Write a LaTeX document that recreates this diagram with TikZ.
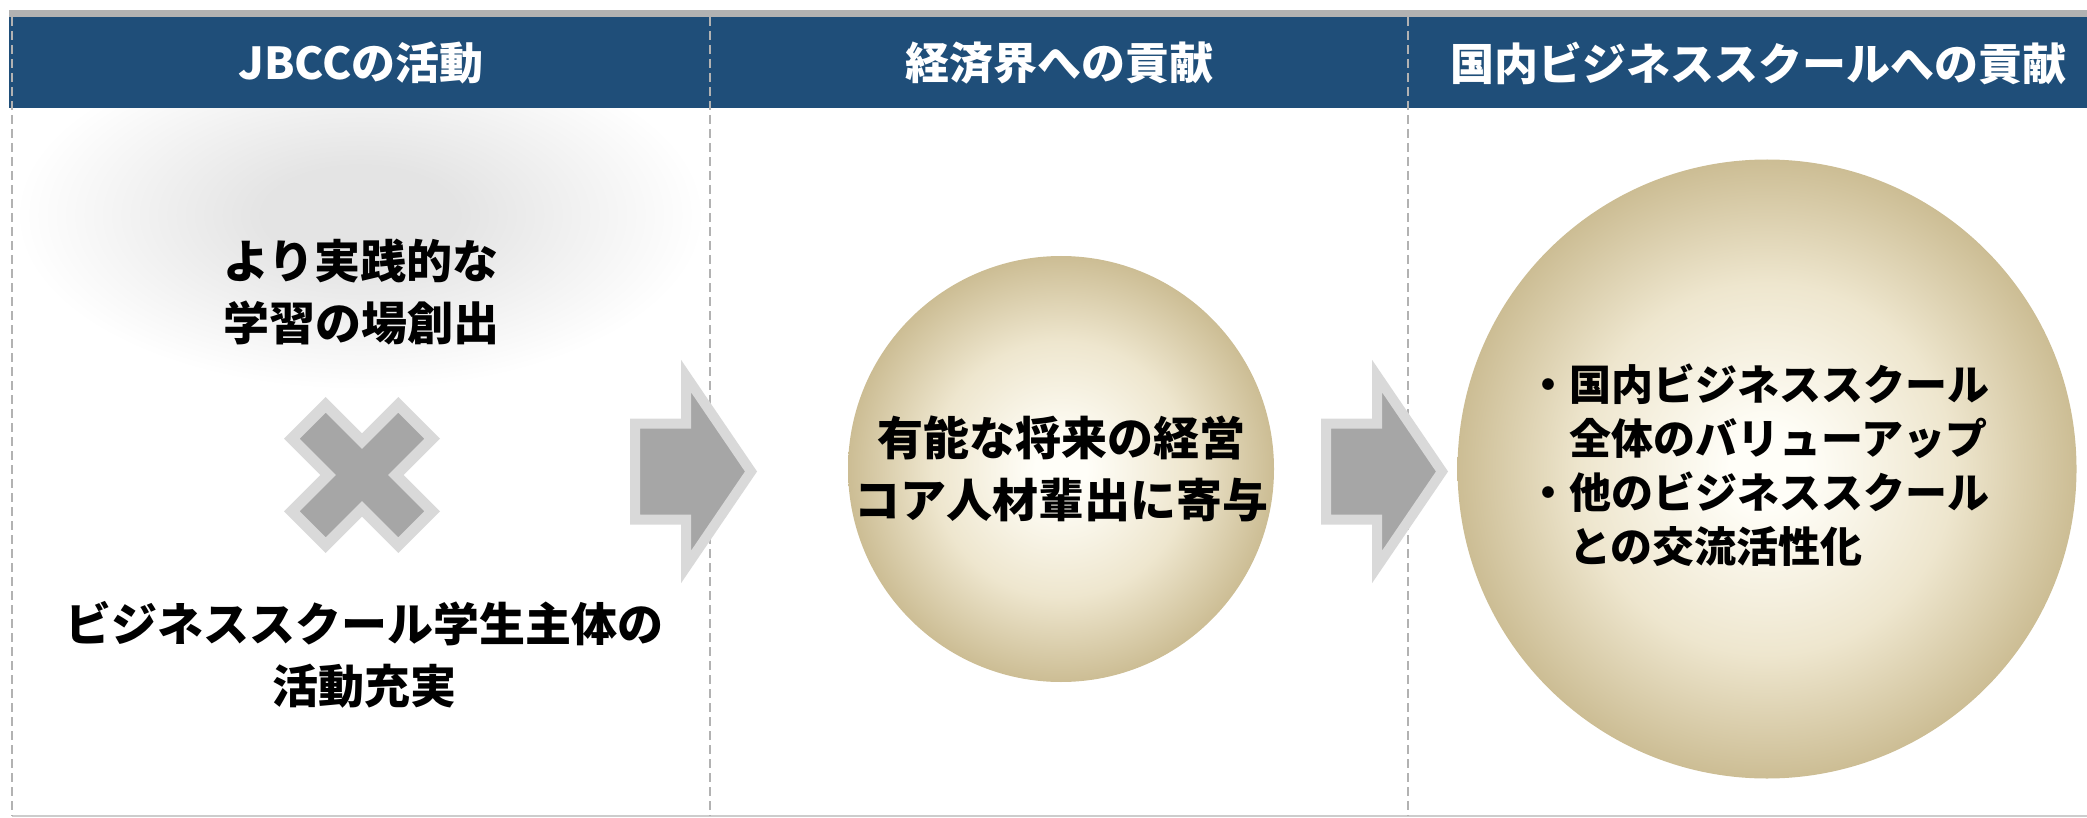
\documentclass[tikz,border=0pt]{standalone}
\usepackage{fontspec}
\setmainfont{Noto Sans CJK JP}
\usepackage{xcolor}
\definecolor{headblue}{RGB}{31,78,121}
\definecolor{arrowdark}{RGB}{166,166,166}
\definecolor{arrowlight}{RGB}{217,217,217}
\definecolor{pearlin}{RGB}{255,254,248}
\definecolor{pearlmid}{RGB}{238,230,206}
\definecolor{pearlout}{RGB}{204,189,148}
\definecolor{hazein}{RGB}{228,228,228}
\pgfdeclareradialshading{pearl}{\pgfpoint{0bp}{0bp}}{color(0bp)=(pearlin); color(3bp)=(pearlin); color(15bp)=(pearlmid); color(25bp)=(pearlout); color(50bp)=(pearlout)}
\pgfdeclareradialshading{haze}{\pgfpoint{0bp}{0bp}}{color(0bp)=(hazein); color(7bp)=(hazein); color(25bp)=(white); color(50bp)=(white)}

\begin{document}
\begin{tikzpicture}[x=0.5pt,y=-0.5pt]
\tikzset{head text/.style={text=white,font=\fontsize{22}{26}\selectfont\bfseries}}
\tikzset{body text/.style={align=center,font=\fontsize{23}{31}\selectfont\bfseries}}
\tikzset{sep line/.style={draw=black!30,line width=1pt,dash pattern=on 4.5pt off 2.5pt}}
\tikzset{gray arrow/.style={fill=arrowdark,draw=arrowlight,line width=5pt,miter limit=10}}
\tikzset{pearl ball/.style={circle,draw=none,inner sep=0pt,shading=pearl}}

\useasboundingbox (0,0) rectangle (2087,818);

% soft glow behind the first column
\shade[shading=haze] (360,215) ellipse [x radius=345,y radius=175];

% header band and column lines
\fill[black!30] (9,10) rectangle (2087,17);
\fill[headblue] (9,17) rectangle (2087,108);
\draw[black!20,line width=1pt] (12,816) -- (2087,816);
\foreach \sx in {12,710,1408}
  \draw[sep line] (\sx,17) -- (\sx,816);

\node[head text] (h1) at (361,63) {JBCCの活動};
\node[head text] (h2) at (1059,63) {経済界への貢献};
\node[head text] (h3) at (1758,63) {国内ビジネススクールへの貢献};

% first column
\node[body text] (t1) at (361,292) {より実践的な\\学習の場創出};
\begin{scope}[shift={(362,475)},rotate=45]
\draw[gray arrow,line width=5.5pt] (24,75.3) -- (24,24) -- (75.3,24) -- (75.3,-24) -- (24,-24) -- (24,-75.3)
  -- (-24,-75.3) -- (-24,-24) -- (-75.3,-24) -- (-75.3,24) -- (-24,24) -- (-24,75.3) -- cycle;
\end{scope}
\node[body text] (t2) at (364,655) {ビジネススクール学生主体の\\活動充実};

% block arrows
\foreach \ax in {630,1321}{
\begin{scope}[shift={(\ax,471.5)}]
\draw[gray arrow] (5,-48) -- (56,-48) -- (56,-95.5) -- (121,0) -- (56,95.5) -- (56,48) -- (5,48) -- cycle;
\end{scope}
}

% balls
\node[pearl ball,minimum size=213pt] (b1) at (1061,469) {};
\node[body text] (b1t) at (b1.center) {有能な将来の経営\\コア人材輩出に寄与};
\node[pearl ball,minimum size=309.5pt] (b2) at (1767,469) {};
\node[body text,align=left,font=\fontsize{21}{27}\selectfont\bfseries] (b2t) at (1758,465)
  {・国内ビジネススクール\\\hphantom{・}全体のバリューアップ\\・他のビジネススクール\\\hphantom{・}との交流活性化};

\end{tikzpicture}
\end{document}
